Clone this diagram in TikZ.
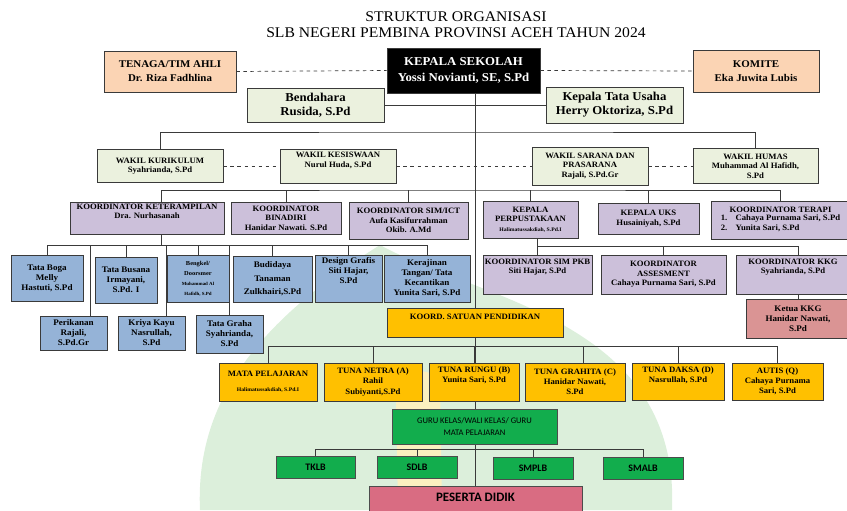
\documentclass[tikz,border=0pt]{standalone}
\usepackage{fontspec}
\setmainfont{Liberation Serif}[FakeStretch=1.06]
\newfontfamily\kelasfont{Carlito}
\usetikzlibrary{positioning}

\definecolor{peach}{HTML}{FBD4B4}
\definecolor{sage}{HTML}{EBF1DE}
\definecolor{lav}{HTML}{CCC0DA}
\definecolor{steel}{HTML}{95B3D7}
\definecolor{gold}{HTML}{FFC000}
\definecolor{leaf}{HTML}{12AD4D}
\definecolor{rose}{HTML}{DA9494}
\definecolor{pink}{HTML}{D96C82}
\definecolor{linec}{HTML}{3A3A3A}
\definecolor{wmgreen}{HTML}{DCEFDB}
\definecolor{wmyellow}{HTML}{FBF0C0}

\pgfdeclarelayer{background}
\pgfsetlayers{background,main}

\tikzset{
  size/.style 2 args={minimum width=#1*0.3mm, minimum height=#2*0.3mm},
  box/.style={draw=linec, line width=0.7pt, align=center, inner sep=1pt,
    font=\bfseries\fontsize{7.3}{8.7}\selectfont},
  ahli/.style={box, fill=peach, font=\bfseries\fontsize{8.8}{12}\selectfont},
  kepsek/.style={box, fill=black, text=white, font=\bfseries\fontsize{10.3}{13.5}\selectfont},
  staf/.style={box, fill=sage, font=\bfseries\fontsize{10.3}{12}\selectfont},
  wakil/.style={box, fill=sage, font=\bfseries\fontsize{7}{8.2}\selectfont},
  koord/.style={box, fill=lav, font=\bfseries\fontsize{7}{8.2}\selectfont},
  unit/.style={box, fill=steel, font=\bfseries\fontsize{7.3}{8.6}\selectfont},
  satuan/.style={box, fill=gold, font=\bfseries\fontsize{7}{8.6}\selectfont},
  ketua/.style={box, fill=rose, font=\bfseries\fontsize{7.3}{8.6}\selectfont},
  kelas/.style={box, fill=leaf, draw=black!70, font=\kelasfont\fontsize{7.3}{10.5}\selectfont},
  jenjang/.style={kelas, font=\kelasfont\bfseries\fontsize{8.5}{9}\selectfont},
  peserta/.style={box, fill=pink, draw=black!70},
  intop/.style={anchor=north, label distance=-2.5pt, align=center, inner sep=1pt},
  link/.style={draw=linec, line width=0.6pt},
}

\begin{document}
\begin{tikzpicture}[x=0.3mm,y=-0.3mm]
  \useasboundingbox (0,0) rectangle (847,510);

  % judul
  \node[align=center, font=\fontsize{12.6}{13.8}\selectfont] (judul) at (456,25)
    {STRUKTUR ORGANISASI\\SLB NEGERI PEMBINA PROVINSI ACEH TAHUN 2024};

  % pimpinan
  \node[ahli, size={132}{41}] (ahli) at (170,71.5) {TENAGA/TIM AHLI\\Dr. Riza Fadhlina};
  \node[kepsek, size={153}{45}] (kepsek) at (463.5,70.5) {KEPALA SEKOLAH\\Yossi Novianti, SE, S.Pd};
  \node[ahli, size={126}{42}] (komite) at (756,71) {KOMITE\\Eka Juwita Lubis};
  \node[staf, size={137}{34}] (bendahara) at (315.5,105) {Bendahara\\Rusida, S.Pd};
  \node[staf, size={137}{36}] (ktu) at (614.5,105) {Kepala Tata Usaha\\Herry Oktoriza, S.Pd};

  % wakil
  \node[wakil, size={126}{33}] (wkur) at (160,166) {WAKIL KURIKULUM\\Syahrianda, S.Pd};
  \node[wakil, size={116}{34}] (wkes) at (338,166) {WAKIL KESISWAAN\\Nurul Huda, S.Pd\\[2pt]};
  \node[wakil, size={116}{38}] (wsar) at (590,166) {WAKIL SARANA DAN\\PRASARANA\\Rajali, S.Pd.Gr};
  \node[wakil, size={125}{35}] (whum) at (755.5,166) {WAKIL HUMAS\\Muhammad Al Hafidh,\\S.Pd};

  % koordinator
  \node[koord, size={154}{32}] (ket) at (147,218) {KOORDINATOR KETERAMPILAN\\Dra. Nurhasanah\\[3pt]};
  \node[koord, size={110}{32}] (binadiri) at (286,218) {KOORDINATOR\\BINADIRI\\Hanidar Nawati. S.Pd};
  \node[koord, size={119}{37}] (simict) at (408.5,220.5) {KOORDINATOR SIM/ICT\\Aufa Kasifurrahman\\Okib. A.Md};
  \node[koord, size={95}{37}] (perpus) at (530.5,219.5)
    {KEPALA\\PERPUSTAKAAN\\{\fontsize{4.6}{6}\selectfont Halimatussakdiah, S.Pd.I}};
  \node[koord, size={101}{31}] (uks) at (648.5,218.5) {KEPALA UKS\\Husainiyah, S.Pd};
  \node[koord, size={139}{38}] (terapi) at (780.5,220)
    {KOORDINATOR TERAPI\\
     \begin{tabular}{@{}l@{\hspace{7pt}}l@{}}1.&Cahaya Purnama Sari, S.Pd\\2.&Yunita Sari, S.Pd\end{tabular}};
  \node[koord, size={109}{39}, label={[intop, font=\bfseries\fontsize{7}{8.2}\selectfont]north:{KOORDINATOR SIM PKB\\Siti Hajar, S.Pd}}] (simpkb) at (537.5,274.5) {};
  \node[koord, size={125}{39}] (asesmen) at (663.5,274.5) {KOORDINATOR\\ASSESMENT\\Cahaya Purnama Sari, S.Pd};
  \node[koord, size={114}{39}, label={[intop, font=\bfseries\fontsize{7}{8.2}\selectfont]north:{KOORDINATOR KKG\\Syahrianda, S.Pd}}] (kkg) at (793,274.5) {};
  \node[ketua, size={104}{39}] (ketuakkg) at (798,318.5) {Ketua KKG\\Hanidar Nawati,\\S.Pd};

  % keterampilan
  \node[unit, size={72}{46}] (boga) at (47,278) {Tata Boga\\Melly\\Hastuti, S.Pd};
  \node[unit, size={62}{46}] (busana) at (126,280) {Tata Busana\\Irmayani,\\S.Pd. I};
  \node[unit, size={62}{47}] (bengkel) at (198,278.5)
    {{\fontsize{5.2}{8.5}\selectfont Bengkel/}\\{\fontsize{5.2}{8.5}\selectfont Doorsmer}\\
     {\fontsize{4}{5}\selectfont Muhammad Al}\\{\fontsize{4}{5}\selectfont Hafidh, S.Pd}};
  \node[unit, size={79}{46}] (budidaya) at (272.5,279) {Budidaya\\[3pt]Tanaman\\[3pt]Zulkhairi,S.Pd};
  \node[unit, size={67}{47}] (grafis) at (348.5,278.5) {Design Grafis\\Siti Hajar,\\S.Pd\\[5pt]};
  \node[unit, size={86}{47}] (kerajinan) at (427,278.5) {Kerajinan\\Tangan/ Tata\\Kecantikan\\Yunita Sari, S.Pd};
  \node[unit, size={67}{34}] (ikan) at (73.5,333) {Perikanan\\Rajali,\\S.Pd.Gr};
  \node[unit, size={67}{34}] (kriya) at (151.5,333) {Kriya Kayu\\Nasrullah,\\S.Pd};
  \node[unit, size={67}{38}] (graha) at (229.5,334) {Tata Graha\\Syahrianda,\\S.Pd};

  % satuan pendidikan
  \node[satuan, size={176}{29}, label={[intop, label distance=-4pt, font=\bfseries\fontsize{7}{8}\selectfont]north:{KOORD. SATUAN PENDIDIKAN}}] (ksp) at (475,322.5) {};
  \node[satuan, size={98}{38}] (mapel) at (268,382)
    {MATA PELAJARAN\\[4pt]{\fontsize{4.6}{6}\selectfont Halimatussakdiah, S.Pd.I}};
  \node[satuan, size={98}{38}] (netra) at (373,382) {TUNA NETRA (A)\\Rahil\\Subiyanti,S.Pd};
  \node[satuan, size={90}{38}, label={[intop, font=\bfseries\fontsize{7}{8.2}\selectfont]north:{TUNA RUNGU (B)\\Yunita Sari, S.Pd}}] (rungu) at (474,382) {};
  \node[satuan, size={100}{38}] (grahita) at (575,382) {TUNA GRAHITA (C)\\Hanidar Nawati,\\S.Pd};
  \node[satuan, size={92}{37}, label={[intop, font=\bfseries\fontsize{7}{8.2}\selectfont]north:{TUNA DAKSA (D)\\Nasrullah, S.Pd}}] (daksa) at (678,381.5) {};
  \node[satuan, size={91}{37}] (autis) at (777.5,381.5) {AUTIS (Q)\\Cahaya Purnama\\Sari, S.Pd};

  % guru dan peserta didik
  \node[kelas, size={165}{35}] (guru) at (474.5,426.5) {GURU KELAS/WALI KELAS/ GURU\\MATA PELAJARAN};
  \node[jenjang, size={79}{22}] (tklb) at (315.5,467) {TKLB};
  \node[jenjang, size={80}{22}] (sdlb) at (417,467) {SDLB};
  \node[jenjang, size={80}{22}] (smplb) at (533,468) {SMPLB};
  \node[jenjang, size={80}{22}] (smalb) at (643,468) {SMALB};
  \node[peserta, size={213}{44}, label={[intop, label distance=-5pt, font=\kelasfont\bfseries\fontsize{11}{12}\selectfont]north:{PESERTA DIDIK}}] (peserta) at (475.5,508) {};

  \begin{pgfonlayer}{background}
    % logo samar di latar
    \fill[wmgreen] (200,510) .. controls (195,400) and (260,320) .. (380,245)
      .. controls (480,300) and (680,320) .. (672,510) -- cycle;
    \fill[wmyellow] (398,510) -- (396,395) .. controls (400,370) and (432,362) .. (440,385) -- (442,510) -- cycle;

    % garis
    \coordinate (wbar) at (474,132);
    \coordinate (kbar) at (474,190);
    \coordinate (tbar) at (0,245);
    \coordinate (rbar) at (0,246);
    \coordinate (sbar) at (0,346);
    \coordinate (gbar) at (0,449);
    % garis komando utama
    \path[link] (kepsek.south -| peserta.north) -- (peserta.north);
    \path[link] (bendahara.east) -- (bendahara.east -| peserta.north);
    \path[link] (ktu.west) -- (ktu.west -| peserta.north);
    \path[link, dashed] (ahli.east) -- (kepsek.west);
    \path[link, dashed] (kepsek.east) -- (komite.west);
    % wakil
    \path[link] (wkur.north) |- (wbar) -| (whum.north);
    \path[link, dashed] (wkur.east) -- (wkes.west);
    \path[link, dashed] (wkes.east) -- (wsar.west);
    \path[link, dashed] (wsar.east) -- (whum.west);
    % koordinator
    \path[link] ([xshift=4.2mm]ket.north) |- (kbar) -| (terapi.north);
    \foreach \n in {binadiri,simict,perpus,uks}
      \path[link] (\n.north) -- (\n.north |- kbar);
    % keterampilan
    \path[link] ([xshift=4.2mm]ket.south) -- ([xshift=4.2mm]ket.south |- tbar);
    \path[link] (boga.north) |- (kerajinan.north |- tbar) -- (kerajinan.north);
    \foreach \n in {busana,bengkel,graha,budidaya,grafis}
      \path[link] (\n.north) -- (\n.north |- tbar);
    \path[link] ([xshift=4.95mm]ikan.north) -- ([xshift=4.95mm]ikan.north |- tbar);
    \path[link] ([xshift=4.35mm]kriya.north) -- ([xshift=4.35mm]kriya.north |- tbar);
    % sim pkb, asesmen, kkg
    \path[link] (simpkb.north |- perpus.south) -- (simpkb.north);
    \path[link] (simpkb.north |- rbar) -| (ketuakkg.north |- kkg.north);
    \path[link] (asesmen.north) -- (asesmen.north |- rbar);
    \path[link] (ketuakkg.north |- kkg.south) -- (ketuakkg.north);
    % satuan pendidikan
    \path[link] (mapel.north) |- (sbar -| autis.north) -- (autis.north);
    \foreach \n in {netra,rungu,daksa}
      \path[link] (\n.north) -- (\n.north |- sbar);
    \path[link] ([xshift=2.4mm]grahita.north) -- ([xshift=2.4mm]grahita.north |- sbar);
    % jenjang
    \path[link] (tklb.north) |- (gbar -| smalb.north) -- (smalb.north);
    \foreach \n in {sdlb,smplb}
      \path[link] (\n.north) -- (\n.north |- gbar);
  \end{pgfonlayer}
\end{tikzpicture}
\end{document}
